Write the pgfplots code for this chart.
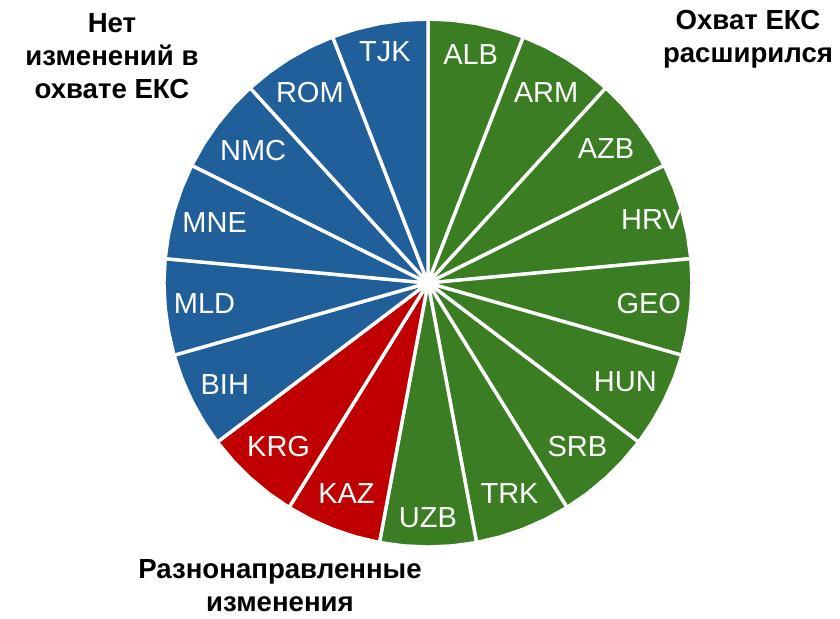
\documentclass[border=0pt]{standalone}
\usepackage{fontspec}
\setmainfont{Liberation Sans}
\usepackage{pgfplots}
\pgfplotsset{compat=1.18}
\usepgfplotslibrary{polar}
\definecolor{cgreen}{HTML}{3B7D23}
\definecolor{cblue}{HTML}{215F9A}
\definecolor{cred}{HTML}{C00000}
\begin{document}
\begin{tikzpicture}
\begin{polaraxis}[hide axis, scale only axis, width=264pt, height=264pt,
  xmin=0, xmax=360, ymin=0, ymax=1, clip=false,
  slice/.style={fill=#1, draw=white, line width=1.7pt}]
% 17 equal slices (value 1 each), clockwise from 12 o'clock
\addplot[slice=cgreen] coordinates {(0,0) (90,1) (84.7059,1) (79.4118,1) (74.1176,1) (68.8235,1)} -- cycle; % ALB
\addplot[slice=cgreen] coordinates {(0,0) (68.8235,1) (63.5294,1) (58.2353,1) (52.9412,1) (47.6471,1)} -- cycle; % ARM
\addplot[slice=cgreen] coordinates {(0,0) (47.6471,1) (42.3529,1) (37.0588,1) (31.7647,1) (26.4706,1)} -- cycle; % AZB
\addplot[slice=cgreen] coordinates {(0,0) (26.4706,1) (21.1765,1) (15.8824,1) (10.5882,1) (5.2941,1)} -- cycle; % HRV
\addplot[slice=cgreen] coordinates {(0,0) (5.2941,1) (0,1) (354.7059,1) (349.4118,1) (344.1176,1)} -- cycle; % GEO
\addplot[slice=cgreen] coordinates {(0,0) (344.1176,1) (338.8235,1) (333.5294,1) (328.2353,1) (322.9412,1)} -- cycle; % HUN
\addplot[slice=cgreen] coordinates {(0,0) (322.9412,1) (317.6471,1) (312.3529,1) (307.0588,1) (301.7647,1)} -- cycle; % SRB
\addplot[slice=cgreen] coordinates {(0,0) (301.7647,1) (296.4706,1) (291.1765,1) (285.8824,1) (280.5882,1)} -- cycle; % TRK
\addplot[slice=cgreen] coordinates {(0,0) (280.5882,1) (275.2941,1) (270,1) (264.7059,1) (259.4118,1)} -- cycle; % UZB
\addplot[slice=cred] coordinates {(0,0) (259.4118,1) (254.1176,1) (248.8235,1) (243.5294,1) (238.2353,1)} -- cycle; % KAZ
\addplot[slice=cred] coordinates {(0,0) (238.2353,1) (232.9412,1) (227.6471,1) (222.3529,1) (217.0588,1)} -- cycle; % KRG
\addplot[slice=cblue] coordinates {(0,0) (217.0588,1) (211.7647,1) (206.4706,1) (201.1765,1) (195.8824,1)} -- cycle; % BIH
\addplot[slice=cblue] coordinates {(0,0) (195.8824,1) (190.5882,1) (185.2941,1) (180,1) (174.7059,1)} -- cycle; % MLD
\addplot[slice=cblue] coordinates {(0,0) (174.7059,1) (169.4118,1) (164.1176,1) (158.8235,1) (153.5294,1)} -- cycle; % MNE
\addplot[slice=cblue] coordinates {(0,0) (153.5294,1) (148.2353,1) (142.9412,1) (137.6471,1) (132.3529,1)} -- cycle; % NMC
\addplot[slice=cblue] coordinates {(0,0) (132.3529,1) (127.0588,1) (121.7647,1) (116.4706,1) (111.1765,1)} -- cycle; % ROM
\addplot[slice=cblue] coordinates {(0,0) (111.1765,1) (105.8824,1) (100.5882,1) (95.2941,1) (90,1)} -- cycle; % TJK
% slice labels
\addplot[draw=none, mark=none, nodes near coords, point meta=explicit symbolic,
  every node near coord/.append style={anchor=center, text=white, font=\fontsize{14.5}{17}\selectfont}]
  coordinates {
  (79.41,0.88) [ALB]
  (58.24,0.85) [ARM]
  (37.06,0.845) [AZB]
  (15.88,0.88) [HRV]
  (354.71,0.84) [GEO]
  (333.53,0.835) [HUN]
  (312.35,0.84) [SRB]
  (291.18,0.855) [TRK]
  (270,0.89) [UZB]
  (248.82,0.855) [KAZ]
  (227.65,0.84) [KRG]
  (206.47,0.86) [BIH]
  (185.29,0.85) [MLD]
  (164.12,0.84) [MNE]
  (142.94,0.83) [NMC]
  (121.76,0.85) [ROM]
  (100.59,0.89) [TJK]
  };
\coordinate (c) at (axis cs:0,0);
\end{polaraxis}
\begin{scope}[every node/.style={align=center, inner sep=0pt, font=\bfseries\fontsize{13.8}{16.5}\selectfont}]
\node at ([shift={(-158pt,113.5pt)}]c) {Нет\\изменений в\\охвате ЕКС};
\node at ([shift={(160pt,122pt)}]c) {Охват ЕКС\\расширился};
\node at ([shift={(-74pt,-151.5pt)}]c) {Разнонаправленные\\изменения};
\end{scope}
\pgfresetboundingbox
\path[use as bounding box] ([shift={(-214pt,-167.5pt)}]c) rectangle ([shift={(206pt,141.5pt)}]c);
\end{tikzpicture}
\end{document}
